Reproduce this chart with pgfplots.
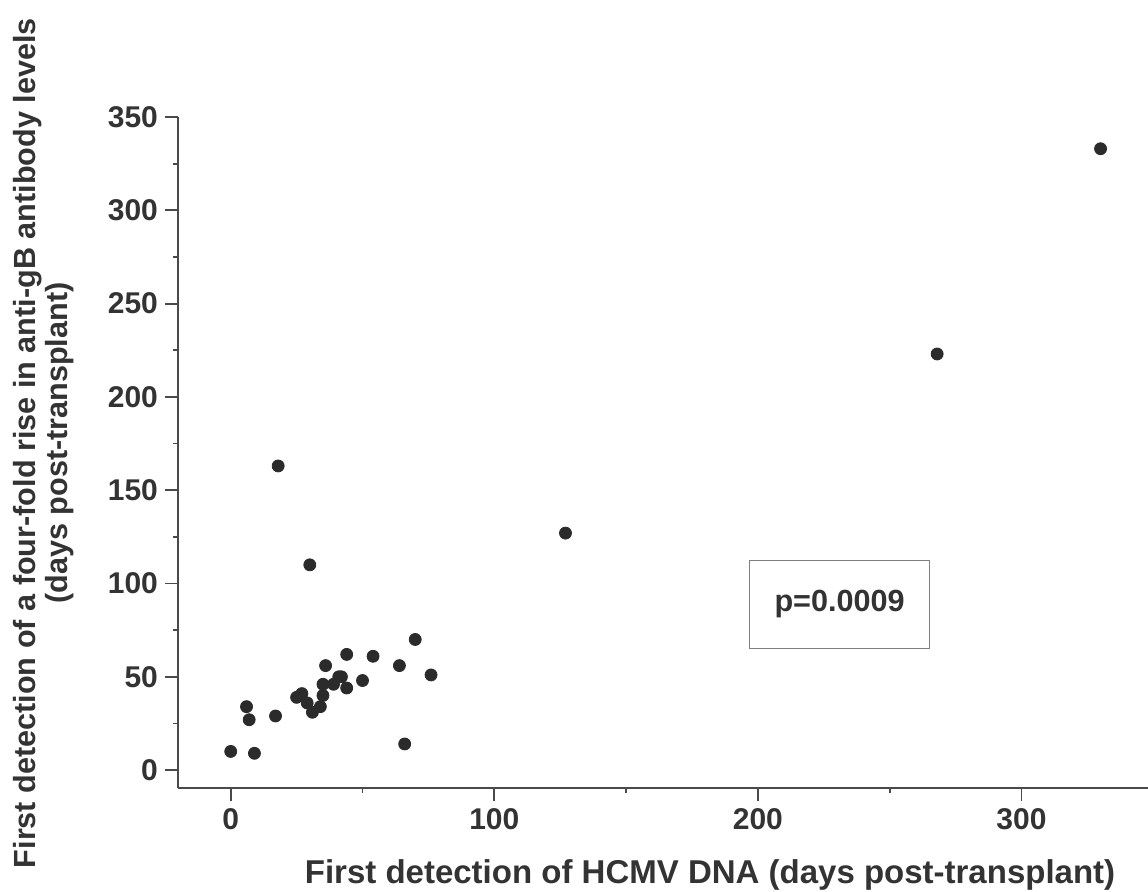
\documentclass[border=0pt]{standalone}
\usepackage{fontspec}
\setmainfont{Liberation Sans}
\usepackage{pgfplots}
\pgfplotsset{compat=1.18}
\definecolor{axgray}{HTML}{4A4A4A}
\definecolor{txt}{HTML}{333333}
\definecolor{dot}{HTML}{2B2B2B}
\begin{document}
\begin{tikzpicture}
\begin{axis}[
  scale only axis, width=485pt, height=335.5pt,
  xmin=-20, xmax=348, ymin=-9.6, ymax=350,
  axis x line*=bottom, axis y line*=left,
  axis line style={draw=axgray, line width=0.9pt, -},
  xtick={0,100,200,300}, minor xtick={50,150,250},
  ytick={0,50,...,350}, minor ytick={25,75,...,325},
  tick align=outside, major tick length=6.5pt, minor tick length=2.5pt,
  every tick/.style={draw=axgray, line width=0.9pt},
  /pgf/number format/assume math mode=true,
  tick label style={font=\fontsize{15}{15}\selectfont\bfseries, text=txt},
  clip=false,
]
\addplot[only marks, mark=*, mark size=3pt, mark options={fill=dot, draw=dot}] coordinates {
(0,10) (9,9) (6,34) (7,27) (17,29) (25,39) (27,41) (29,36) (31,31) (34,34)
(35,40) (35,46) (36,56) (39,46) (41,50) (42,50) (44,44) (44,62) (50,48) (54,61)
(64,56) (66,14) (70,70) (76,51) (18,163) (30,110) (127,127) (268,223) (330,333)
};
\node[draw=black!50, line width=0.5pt, minimum width=90pt, minimum height=44pt,
  font=\fontsize{15.3}{15.3}\selectfont\bfseries, text=txt] at (axis cs:231,89) {p=0.0009};
\node[anchor=base, font=\fontsize{16.5}{16.5}\selectfont\bfseries, text=txt]
  at (axis description cs:0.5485,-0.1416) {First detection of HCMV DNA (days post-transplant)};
\node[anchor=base, rotate=90, font=\fontsize{15.3}{15.3}\selectfont\bfseries, text=txt]
  at (axis description cs:-0.1474,0.514) {First detection of a four-fold rise in anti-gB antibody levels};
\node[anchor=base, rotate=90, font=\fontsize{15.3}{15.3}\selectfont\bfseries, text=txt]
  at (axis description cs:-0.1144,0.514) {(days post-transplant)};
\end{axis}
\pgfresetboundingbox
\path[use as bounding box] ([xshift=-89pt,yshift=-51.5pt]current axis.south west) rectangle ([yshift=58.5pt]current axis.north east);
\end{tikzpicture}
\end{document}
